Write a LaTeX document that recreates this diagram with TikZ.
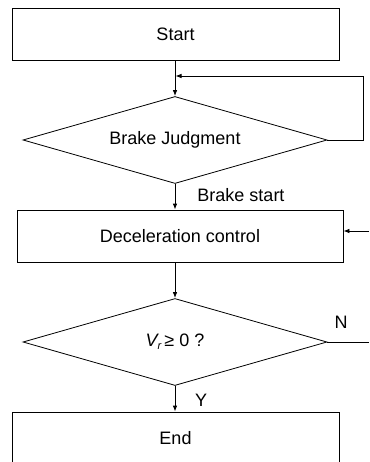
\documentclass[tikz,border=0pt]{standalone}
\usepackage{fontspec}
\setmainfont{Liberation Sans}
\usetikzlibrary{shapes.geometric,arrows.meta}
\begin{document}
\begin{tikzpicture}[x=1pt,y=-1pt,
  box/.style={draw,line width=0.8pt,rectangle,minimum height=52pt,inner sep=0pt,font=\fontsize{18}{22}\selectfont},
  dia/.style={draw,line width=0.8pt,diamond,aspect=3.5,minimum width=304pt,minimum height=87pt,inner sep=0pt,font=\fontsize{18}{22}\selectfont},
  arr/.style={line width=0.8pt,-{Latex[length=6pt,width=4.5pt]}},
  ln/.style={line width=0.8pt},
  lbl/.style={font=\fontsize{18}{22}\selectfont,inner sep=0pt}]
\useasboundingbox (0,0) rectangle (369,462);
\clip (0,0) rectangle (369,462);
\node[box,minimum width=327pt] (start) at (175.5,34) {Start};
\node[dia] (bj) at (175,140) {Brake Judgment};
\node[box,minimum width=326pt] (dec) at (180,236) {Deceleration control};
\node[dia] (vr) at (175,342) {{\itshape V}\raisebox{-0.35ex}{\fontsize{11}{12}\selectfont\itshape r}\,≥ 0 ?};
\node[box,minimum width=327pt] (end) at (175.5,438) {End};
\coordinate (fbin) at (175.5,76);
\coordinate (fbc1) at (363,140);
\coordinate (fbc2) at (363,76);
\coordinate (decin) at (369,231);
\coordinate (nout) at (369,342);
\draw[arr] (start.south -| bj.north) -- (bj.north);
\draw[ln] (bj.east) -- (fbc1) -- (fbc2);
\draw[arr] (fbc2) -- (fbin);
\draw[arr] (bj.south) -- (bj.south |- dec.north);
\draw[arr] (decin) -- (decin -| dec.east);
\draw[arr] (dec.south -| vr.north) -- (vr.north);
\draw[ln] (vr.east) -- (nout);
\draw[arr] (vr.south) -- (vr.south |- end.north);
\node[lbl] (bs) at (241,195) {Brake start};
\node[lbl] (nl) at (341,322) {N};
\node[lbl] (yl) at (201,400) {Y};
\end{tikzpicture}
\end{document}
